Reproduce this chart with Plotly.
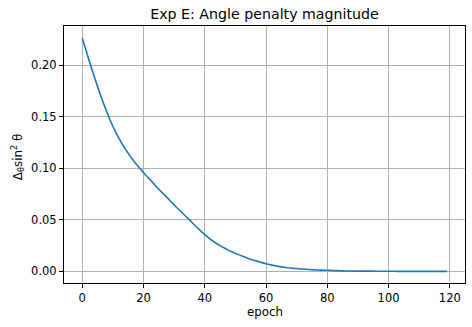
import plotly.graph_objects as go

# valores (una muestra por epoca)
epocas = list(range(120))
penalizacion = [
    0.2263, 0.2165, 0.2068, 0.1973, 0.1881, 0.1792, 0.1706, 0.1624, 0.1546, 0.1472,
    0.1406, 0.1345, 0.1289, 0.1237, 0.1189, 0.1144, 0.1102, 0.1063, 0.1026, 0.0991,
    0.0957, 0.0924, 0.0893, 0.0861, 0.0827, 0.0796, 0.0765, 0.0736, 0.0707, 0.0674,
    0.0644, 0.0614, 0.0587, 0.0556, 0.0527, 0.0499, 0.0469, 0.0440, 0.0411, 0.0383,
    0.0355, 0.0331, 0.0308, 0.0287, 0.0267, 0.0249, 0.0232, 0.0216, 0.0201, 0.0187,
    0.0174, 0.0162, 0.0150, 0.0139, 0.0128, 0.0118, 0.0108, 0.0099, 0.0090, 0.0082,
    0.0074, 0.0067, 0.0060, 0.0054, 0.0048, 0.0043, 0.0039, 0.0035, 0.0032, 0.0029,
    0.0027, 0.0024, 0.0022, 0.0020, 0.0018, 0.0016, 0.0014, 0.0013, 0.0012, 0.0011,
    0.0010, 0.0009, 0.0008, 0.0007, 0.0006, 0.0005, 0.0004, 0.0003, 0.0003, 0.0002,
    0.0002, 0.0002, 0.0002, 0.0002, 0.0002, 0.0002, 0.0001, 0.0001, 0.0001, 0.0001,
    0.0001, 0.0001, 0.0001, 0.0000, 0.0000, 0.0000, 0.0000, 0.0000, 0.0000, 0.0000,
    0.0000, 0.0000, 0.0000, 0.0000, 0.0000, 0.0000, 0.0000, 0.0000, 0.0000, 0.0000,
]
ticks_x = [0, 20, 40, 60, 80, 100, 120]
ticks_y = [0.00, 0.05, 0.10, 0.15, 0.20]

fig = go.Figure()
fig.add_trace(go.Scatter(x=epocas, y=penalizacion, mode='lines',
                         line=dict(color='#1f77b4', width=1.6, simplify=False)))

ejes = dict(showline=True, linecolor='black', linewidth=1, mirror=True,
            ticks='outside', ticklen=4, tickcolor='black', automargin=False,
            showgrid=True, gridcolor='#b0b0b0', gridwidth=0.8, zeroline=False,
            tickfont=dict(size=11.5, color='black'))

fig.update_layout(
    width=472, height=327,
    margin=dict(l=64, r=7, t=26, b=44),
    paper_bgcolor='white', plot_bgcolor='white',
    font=dict(family='DejaVu Sans', color='black'),
    showlegend=False,
    title=dict(text='Exp E: Angle penalty magnitude', x=0.5, xref='paper', xanchor='center',
               y=0.958, yref='container', yanchor='middle', font=dict(size=14.2)),
)
fig.update_xaxes(range=[-5.95, 124.95], tickvals=ticks_x, **ejes)
fig.update_yaxes(range=[-0.0113, 0.2378], tickvals=ticks_y, tickformat='.2f', **ejes)

# titulos de los ejes
fig.add_annotation(text='epoch', xref='paper', yref='paper', x=0.5, y=-0.113,
                   xanchor='center', yanchor='middle', showarrow=False,
                   font=dict(size=11.8))
fig.add_annotation(text='Δ<sub>θ</sub>sin<sup>2</sup> θ', xref='paper', yref='paper',
                   x=-0.117, y=0.49, xanchor='center', yanchor='middle', textangle=-90,
                   showarrow=False, font=dict(size=11.8))

# quitamos el margen del body para que la figura quede en la esquina
fig.write_html("out.html", config={'displayModeBar': False},
               post_script="document.body.style.margin='0';")
